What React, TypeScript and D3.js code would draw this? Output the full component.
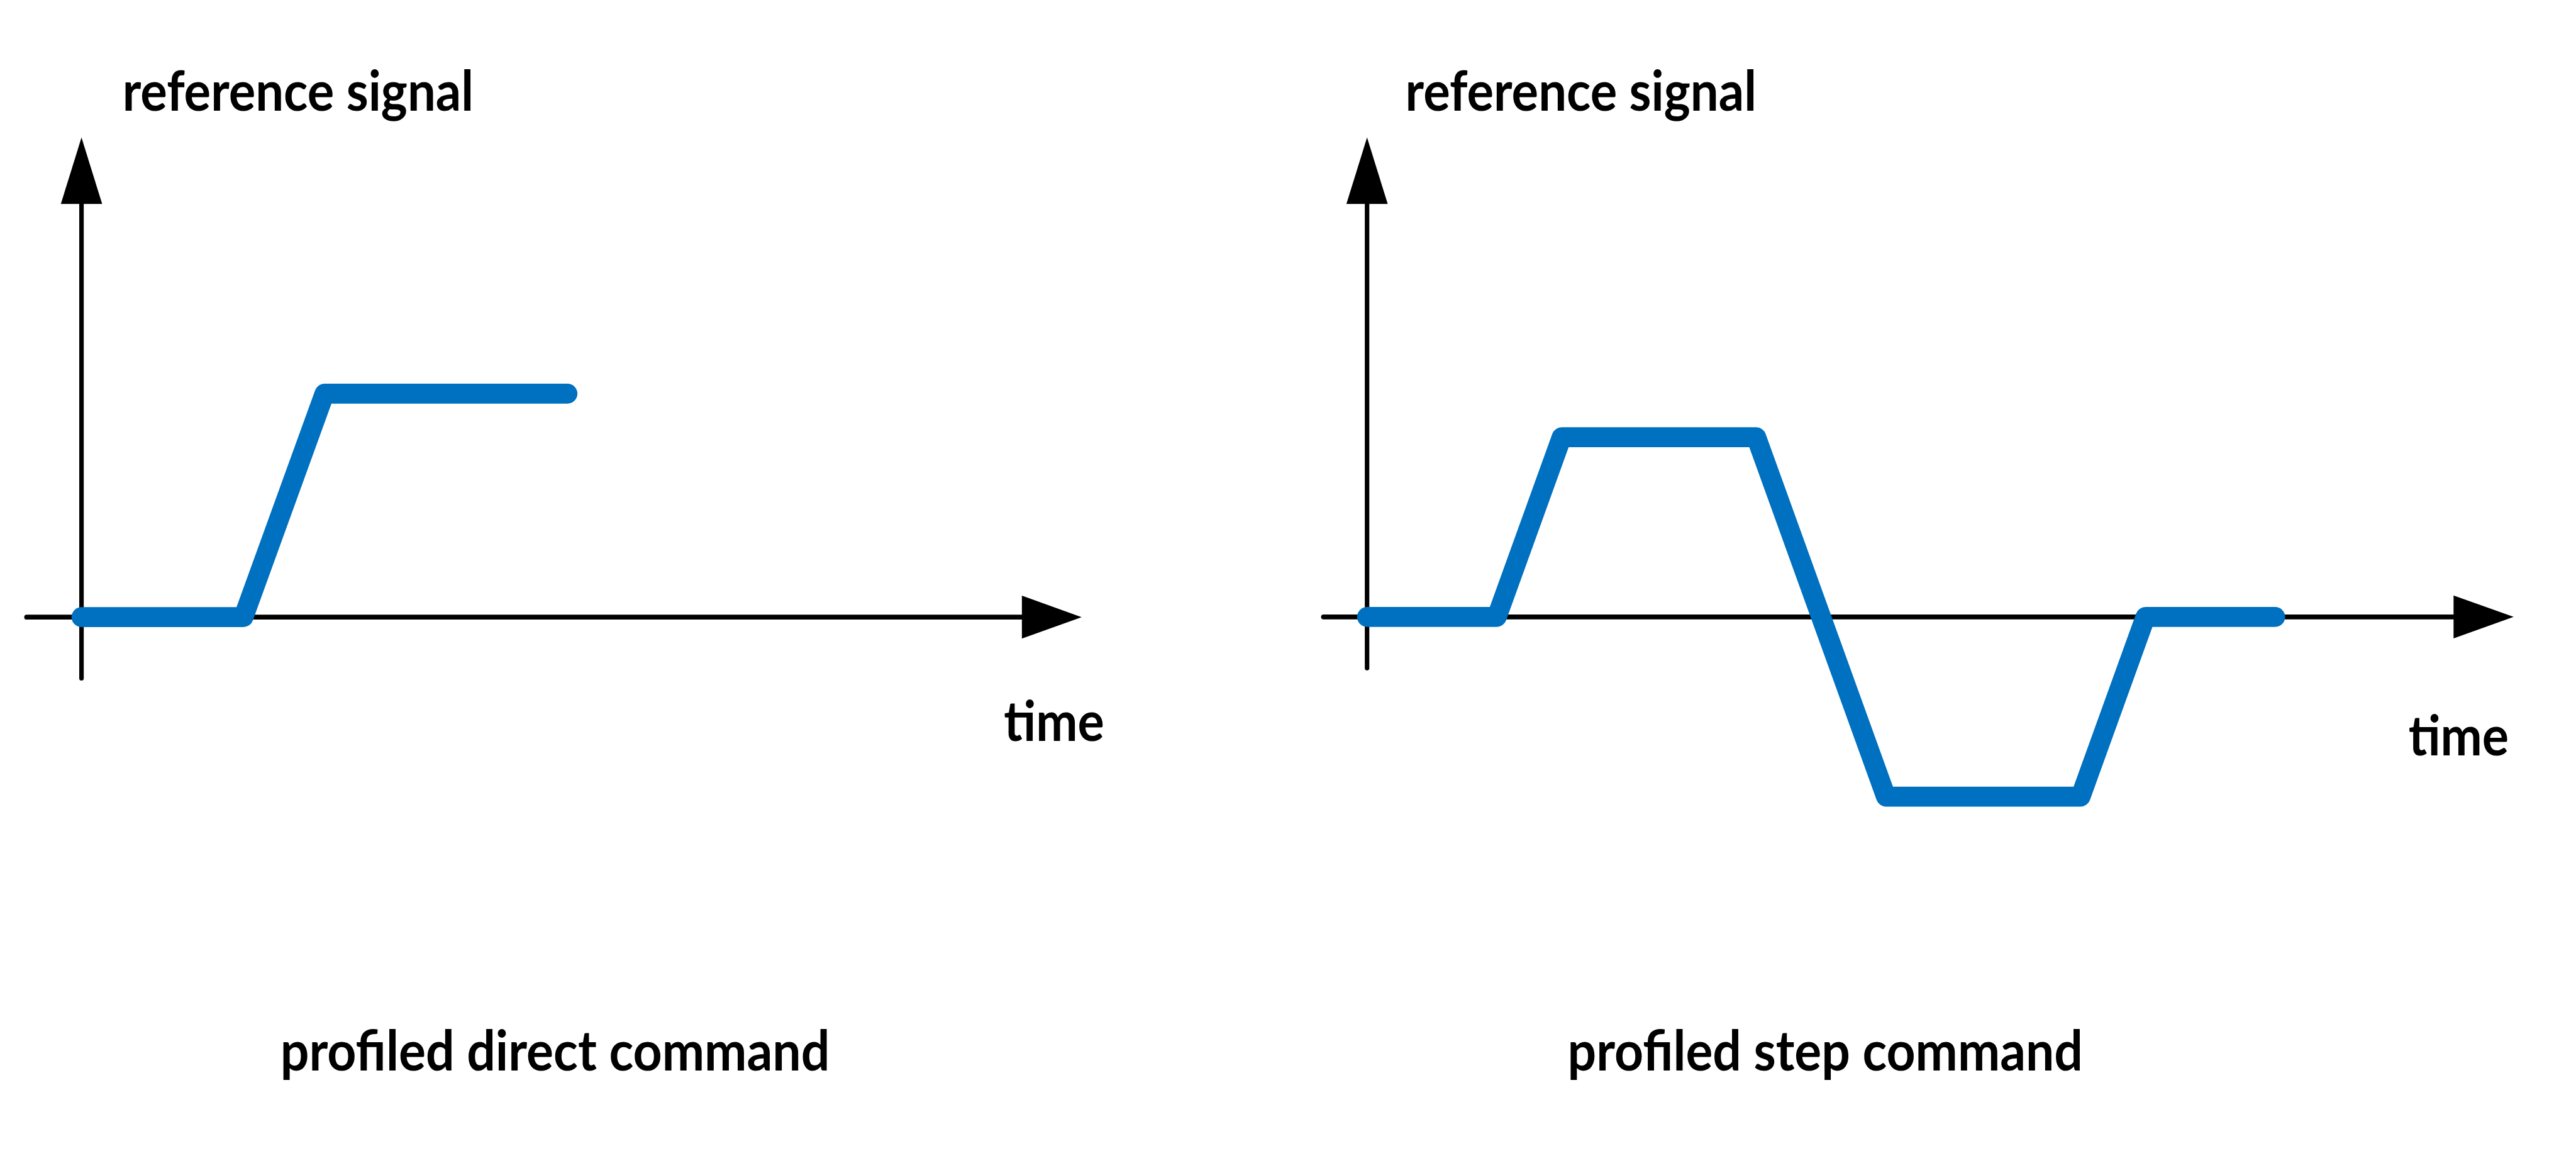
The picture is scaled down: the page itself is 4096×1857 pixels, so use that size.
import { useEffect, useRef } from "react";
import { select, scaleLinear, line } from "d3";

// profiled direct command: time steps and reference level
const directTime = [0, 2, 3, 6];
const directValue = [0, 0, 1, 1];

// profiled step command
const stepTime = [0, 2, 3, 6, 8, 11, 12, 14];
const stepValue = [0, 0, 1, 1, -1, -1, 0, 0];

const yLabel = "reference signal";
const xLabel = "time";
const titles = ["profiled direct command", "profiled step command"];

const W = 4096;
const H = 1857;
// everything below is measured on the 6859px wide original, then scaled
const k = W / 6859;
const BLUE = "#0070C0";
const FONT = "Lato, 'Open Sans', sans-serif";

const panels = [
  {
    time: directTime,
    value: directValue,
    xDomain: [0, 6],
    xRange: [217, 1511],
    yDomain: [0, 1],
    yRange: [1643, 1048],
    xAxis: [71, 2721, 2880],
    yAxis: [1806, 543, 366],
    labelX: 326,
    timeX: 2673,
    timeY: 1972,
    titleX: 1478,
    titleW: 1463,
  },
  {
    time: stepTime,
    value: stepValue,
    xDomain: [0, 14],
    xRange: [3640, 6058],
    yDomain: [-1, 1],
    yRange: [2121, 1164],
    xAxis: [3524, 6533, 6693],
    yAxis: [1779, 543, 366],
    labelX: 3742,
    timeX: 6413,
    timeY: 2011,
    titleX: 4860,
    titleW: 1372,
  },
];

export default function App() {
  const svgRef = useRef<SVGSVGElement>(null);

  useEffect(() => {
    const svg = select(svgRef.current);
    svg.selectAll("*").remove();

    panels.forEach((p, i) => {
      const g = svg.append("g");
      const x = scaleLinear().domain(p.xDomain).range(p.xRange.map((v) => v * k));
      const y = scaleLinear().domain(p.yDomain).range(p.yRange.map((v) => v * k));
      const x0 = x(0);
      const y0 = y(0);

      // x axis + arrow
      g.append("line")
        .attr("x1", p.xAxis[0] * k)
        .attr("x2", p.xAxis[1] * k + 2)
        .attr("y1", y0)
        .attr("y2", y0)
        .attr("stroke", "#000")
        .attr("stroke-width", 13 * k)
        .attr("stroke-linecap", "round");
      g.append("path")
        .attr(
          "d",
          `M${p.xAxis[1] * k},${y0 - 57 * k}L${p.xAxis[2] * k},${y0}L${p.xAxis[1] * k},${y0 + 57 * k}Z`
        )
        .attr("fill", "#000");

      // y axis + arrow
      g.append("line")
        .attr("x1", x0)
        .attr("x2", x0)
        .attr("y1", p.yAxis[0] * k)
        .attr("y2", p.yAxis[1] * k - 2)
        .attr("stroke", "#000")
        .attr("stroke-width", 12 * k)
        .attr("stroke-linecap", "round");
      g.append("path")
        .attr(
          "d",
          `M${x0 - 55 * k},${p.yAxis[1] * k}L${x0},${p.yAxis[2] * k}L${x0 + 55 * k},${p.yAxis[1] * k}Z`
        )
        .attr("fill", "#000");

      const signal = line<number>()
        .x((_, j) => x(p.time[j]))
        .y((v) => y(v));

      g.append("path")
        .datum(p.value)
        .attr("d", signal)
        .attr("fill", "none")
        .attr("stroke", BLUE)
        .attr("stroke-width", 53 * k)
        .attr("stroke-linecap", "round")
        .attr("stroke-linejoin", "round");

      const text = (
        str: string,
        tx: number,
        ty: number,
        len: number,
        anchor = "start"
      ) =>
        g.append("text")
          .attr("x", tx * k)
          .attr("y", ty * k)
          .attr("text-anchor", anchor)
          .attr("font-family", FONT)
          .attr("font-weight", 700)
          .attr("font-size", 88)
          .attr("textLength", len * k)
          .attr("lengthAdjust", "spacingAndGlyphs")
          .attr("fill", "#000")
          .text(str);

      text(yLabel, p.labelX, 295, 935);
      text(xLabel, p.timeX, p.timeY, 267);
      text(titles[i], p.titleX, 2850, p.titleW, "middle");
    });
  }, []);

  return (
    <svg
      ref={svgRef}
      width={W}
      height={H}
      style={{ position: "absolute", left: 0, top: 0, background: "#fff" }}
    />
  );
}
